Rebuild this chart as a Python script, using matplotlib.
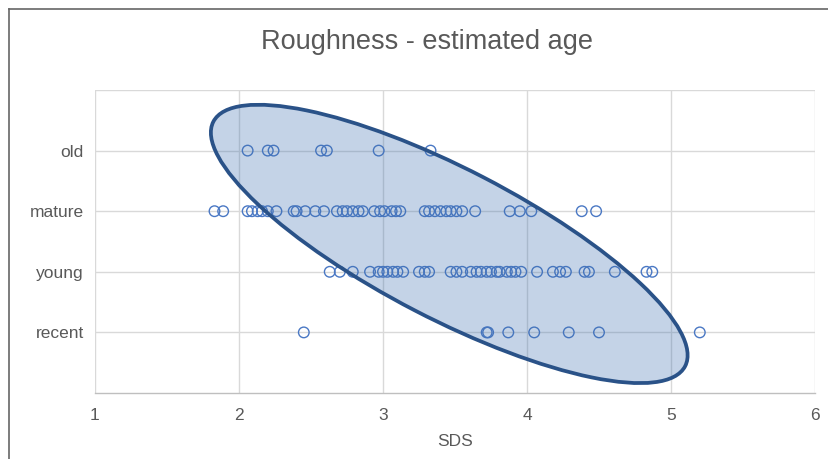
import matplotlib
matplotlib.use("Agg")
import matplotlib.pyplot as plt
from matplotlib.patches import Ellipse
from matplotlib.transforms import Affine2D
from matplotlib.lines import Line2D

plt.rcParams['font.family'] = ['Liberation Sans', 'DejaVu Sans']

categories = ["recent", "young", "mature", "old"]
cat_levels = [1, 2, 3, 4]

old_sds = [2.06, 2.20, 2.24, 2.57, 2.61, 2.97, 3.33]
mature_sds = [1.83, 1.89, 2.06, 2.09, 2.13, 2.16, 2.20, 2.26, 2.38, 2.40, 2.46,
              2.53, 2.59, 2.68, 2.72, 2.75, 2.79, 2.83, 2.86, 2.94, 2.98, 3.01,
              3.06, 3.09, 3.12, 3.29, 3.32, 3.36, 3.40, 3.44, 3.47, 3.51, 3.55,
              3.64, 3.88, 3.95, 4.03, 4.38, 4.48]
young_sds = [2.63, 2.70, 2.79, 2.91, 2.97, 3.00, 3.03, 3.07, 3.10, 3.14, 3.25,
             3.29, 3.32, 3.47, 3.51, 3.55, 3.61, 3.65, 3.68, 3.72, 3.75, 3.79,
             3.81, 3.86, 3.89, 3.92, 3.96, 4.07, 4.18, 4.23, 4.27, 4.40, 4.43,
             4.61, 4.83, 4.87]
recent_sds = [2.45, 3.72, 3.73, 3.87, 4.05, 4.29, 4.50, 5.20]

x_ticks = [1, 2, 3, 4, 5, 6]

# ellipse (x-data units, isotropic after aspect correction)
ell_center = (3.46, 2.46)
ell_semi_major = 1.845
ell_semi_minor = 0.52
ell_angle = -27.4

TXT = "#595959"
W, H = 829, 459
fig = plt.figure(figsize=(W / 100, H / 100), dpi=100)
ax = fig.add_axes([95 / W, 1 - 393 / H, (815 - 95) / W, (393 - 90) / H])

series = [(recent_sds, 1), (young_sds, 2), (mature_sds, 3), (old_sds, 4)]
for xs, lvl in series:
    ax.scatter(xs, [lvl] * len(xs), s=58, facecolors='none',
               edgecolors='#4a78c4', linewidths=1.0, zorder=3)

ax.set_xlim(1, 6)
ax.set_ylim(0, 5)
ax.set_xticks(x_ticks)
ax.set_xticklabels([str(t) for t in x_ticks])
ax.set_yticks(cat_levels + [5])
ax.set_yticklabels(categories + [""])
ax.tick_params(axis='both', length=0, labelsize=12.5, colors=TXT)
ax.tick_params(axis='x', pad=11)
ax.tick_params(axis='y', pad=8)
ax.grid(True, color='#d9d9d9', linewidth=1.0)
ax.set_axisbelow(True)
for side in ['left', 'right', 'top']:
    ax.spines[side].set_visible(False)
ax.spines['bottom'].set_color('#bfbfbf')
ax.spines['bottom'].set_linewidth(1.0)

# aspect correction
bbox = ax.get_window_extent()
r = (bbox.height / 5.0) / (bbox.width / 5.0)
ell = Ellipse((ell_center[0], ell_center[1] * r), 2 * ell_semi_major,
              2 * ell_semi_minor, angle=ell_angle,
              facecolor=(0.24, 0.435, 0.69, 0.30), edgecolor='#2a5288',
              linewidth=2.7,
              transform=Affine2D().scale(1, 1 / r) + ax.transData, zorder=4)
ax.add_patch(ell)

ax.set_xlabel("SDS", fontsize=12.5, color=TXT, labelpad=8)
fig.text(427 / W, 1 - 42 / H, "Roughness - estimated age", fontsize=19.5,
         color=TXT, ha='center', va='center')

# outer frame (left and top)
fig.add_artist(Line2D([9 / W, 9 / W], [0, 1 - 9 / H], color='#666666',
                      linewidth=1.2, transform=fig.transFigure))
fig.add_artist(Line2D([9 / W, 1], [1 - 9 / H, 1 - 9 / H], color='#666666',
                      linewidth=1.2, transform=fig.transFigure))

fig.savefig("out.png", dpi=100)
